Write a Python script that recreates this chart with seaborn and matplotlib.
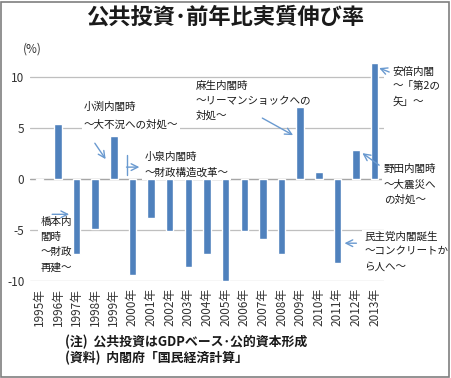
import matplotlib
matplotlib.use("Agg")
import matplotlib.pyplot as plt
import seaborn as sns
import pandas as pd
from matplotlib.patches import Rectangle

years = [f"{y}年" for y in range(1995, 2014)]
values = [-0.1, 5.4, -7.4, -4.9, 4.2, -9.4, -3.8, -5.1, -8.6, -7.4,
          -10.0, -5.1, -5.9, -7.4, 7.0, 0.7, -8.2, 2.8, 11.3]
title = "公共投資･前年比実質伸び率"
notes = ["(注)  公共投資はGDPベース･公的資本形成", "(資料)  内閣府「国民経済計算」"]

sns.set_theme(style="white")
plt.rcParams['font.family'] = ['Noto Sans CJK JP', 'DejaVu Sans']

df = pd.DataFrame({"year": years, "value": values})

W, H = 451, 378
fig = plt.figure(figsize=(W / 100, H / 100), dpi=100)
ax = fig.add_axes([30 / W, (H - 281) / H, (384 - 30) / W, (281 - 56.3) / H])

sns.barplot(data=df, x="year", y="value", color="#4F81BD", saturation=1,
            width=0.4, ax=ax, zorder=8)

ax.set_ylim(-10, 12)
ax.set_xlim(-0.5, 18.5)
ax.set_yticks([-10, -5, 0, 5, 10])
ax.set_yticklabels(["-10", "-5", "0", "5", "10"])
ax.grid(axis="y", color="#BFBFBF", lw=0.9, zorder=0)
ax.set_axisbelow(True)
ax.axhline(0, color="#A6A6A6", lw=0.9, zorder=2)
for s in ax.spines.values():
    s.set_visible(False)
ax.set_xlabel("")
ax.set_ylabel("")
ax.tick_params(axis="y", length=0, pad=4, labelsize=8.5, labelcolor="#333333")
ax.tick_params(axis="x", length=0, pad=5, labelsize=8.5, labelcolor="#333333",
               rotation=90)
for lab in ax.get_xticklabels():
    lab.set_va("top")

fig.text(0.5, (H - 17) / H, title, ha="center", va="center",
         fontsize=16, fontweight="bold", color="#1a1a1a")
ax.text(-0.37, 12.7, "(%)", ha="center", va="center", fontsize=8.5,
        color="#333333", clip_on=False)

for i, n in enumerate(notes):
    fig.text(65 / W, (H - (341.7 + 16.3 * i)) / H, n, ha="left", va="center",
             fontsize=9.3, fontweight="bold", color="#1a1a1a")

acol = "#6A9AD0"
box = dict(facecolor="white", edgecolor="none", pad=1.5)
tk = dict(fontsize=7.6, color="#1a1a1a", ha="left", va="top", zorder=4,
          clip_on=False, linespacing=1.6, bbox=box)

ax.text(2.39, 7.6, "小渕内閣時\n～大不況への対処～", **{**tk, "linespacing": 2.05})
ax.text(5.64, 2.7, "小泉内閣時\n～財政構造改革～", **{**tk, "linespacing": 1.7})
ax.text(8.4, 9.6, "麻生内閣時\n～リーマンショックへの\n対処～", **tk)
ax.text(18.94, 11.0, "安倍内閣\n～「第2の\n矢」～", **tk)
ax.text(18.5, 1.44, "野田内閣時\n～大震災へ\nの対処～", **tk)
ax.text(17.45, -5.2, "民主党内閣誕生\n～コンクリートか\nら人へ～", **tk)
ax.text(0.05, -3.75, "橋本内\n閣時\n～財政\n再建～", **tk)

ap = dict(arrowstyle="->", color=acol, lw=1.0, shrinkA=0, shrinkB=0)
arrows = [((2.98, 3.49), (3.56, 1.93)),
          ((4.68, 1.15), (5.37, 1.15)),
          ((11.97, 5.95), (13.62, 4.28)),
          ((18.78, 10.46), (18.24, 10.85)),
          ((18.24, 1.34), (17.34, 2.52)),
          ((17.02, -6.3), (16.38, -6.3)),
          ((0.69, -3.47), (1.6, -3.47))]
for (x0, y0), (x1, y1) in arrows:
    ax.annotate("", xy=(x1, y1), xytext=(x0, y0), arrowprops=ap,
                annotation_clip=False, zorder=9)
ax.plot([4.68, 4.68], [0.36, 2.32], color=acol, lw=1.0, zorder=9, clip_on=False)

fig.patches.append(Rectangle((1 / W, 1 / H), (W - 3) / W, (H - 3) / H,
                             transform=fig.transFigure, fill=False,
                             edgecolor="#7F7F7F", lw=1.2))

fig.savefig("out.png", dpi=100)
